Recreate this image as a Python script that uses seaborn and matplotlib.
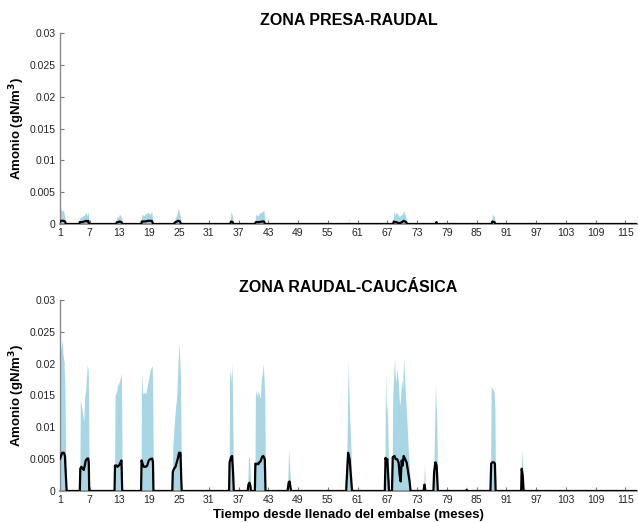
import matplotlib
matplotlib.use("Agg")
import matplotlib.pyplot as plt
import seaborn as sns
import pandas as pd

# Zona Presa-Raudal: time (months), envelope maximum and mean ammonium (gN/m3)
presa_t = [1.0, 1.2, 1.4, 1.7, 2.0, 2.2,
           4.9, 5.0, 5.5, 5.9, 6.3, 6.5, 6.7, 6.9,
           12.3, 12.5, 12.8, 13.0, 13.4, 13.6,
           17.4, 17.5, 18.0, 18.2, 18.8, 19.2, 19.5, 19.8,
           23.9, 24.3, 24.6, 24.8, 25.2, 25.4,
           35.3, 35.5, 35.8, 36.0,
           40.3, 40.5, 41.0, 41.2, 41.8, 42.1, 42.4,
           59.1, 59.2, 59.3,
           68.2, 68.3, 68.6, 68.8, 69.4, 70.0, 70.3, 70.8, 71.0,
           76.8, 76.9, 77.0,
           88.0, 88.2, 88.6, 88.8,
           117.3]
presa_max = [0.0015, 0.0026, 0.0020, 0.0022, 0.0010, 0.0,
             0.0, 0.0010, 0.0012, 0.0014, 0.0018, 0.0013, 0.0020, 0.0,
             0.0, 0.0012, 0.0010, 0.0016, 0.0010, 0.0,
             0.0, 0.0015, 0.0013, 0.0016, 0.0018, 0.0015, 0.0020, 0.0,
             0.0, 0.0010, 0.0015, 0.0025, 0.0015, 0.0,
             0.0, 0.0020, 0.0012, 0.0,
             0.0, 0.0015, 0.0013, 0.0017, 0.0019, 0.0022, 0.0,
             0.0, 0.0012, 0.0,
             0.0, 0.0020, 0.0014, 0.0019, 0.0012, 0.0015, 0.0021, 0.0010, 0.0,
             0.0, 0.0003, 0.0,
             0.0, 0.0015, 0.0012, 0.0,
             0.0]
presa_mean = [0.0003, 0.0005, 0.0005, 0.0005, 0.0004, 0.0,
              0.0, 0.0003, 0.0003, 0.0004, 0.0005, 0.0004, 0.0005, 0.0,
              0.0, 0.0003, 0.0003, 0.0004, 0.0003, 0.0,
              0.0, 0.0004, 0.0004, 0.0004, 0.0005, 0.0005, 0.0005, 0.0,
              0.0, 0.0003, 0.0004, 0.0005, 0.0004, 0.0,
              0.0, 0.0004, 0.0003, 0.0,
              0.0, 0.0003, 0.0003, 0.0003, 0.0004, 0.0004, 0.0,
              0.0, 0.0, 0.0,
              0.0, 0.0004, 0.0003, 0.0003, 0.0001, 0.0003, 0.0005, 0.0003, 0.0,
              0.0, 0.0003, 0.0,
              0.0, 0.0004, 0.0003, 0.0,
              0.0]

# Zona Raudal-Caucásica
cauc_t = [1.0, 1.2, 1.45, 1.6, 1.8, 2.0, 2.15, 2.35,
          5.0, 5.1, 5.3, 5.5, 5.8, 6.0, 6.2, 6.5, 6.7, 6.8, 6.9,
          12.0, 12.1, 12.4, 12.6, 12.9, 13.2, 13.4, 13.55,
          17.35, 17.45, 17.7, 17.9, 18.3, 18.6, 18.9, 19.2, 19.6, 19.75, 19.85,
          23.65, 23.75, 24.0, 24.3, 24.55, 24.8, 25.0, 25.3, 25.45, 25.55,
          35.1, 35.2, 35.4, 35.5, 35.7, 35.9, 36.05,
          38.85, 39.0, 39.2, 39.4, 39.5,
          40.3, 40.4, 40.6, 40.8, 41.0, 41.2, 41.4, 41.6, 41.8, 42.0, 42.3, 42.45,
          46.9, 47.1, 47.3, 47.6,
          58.7, 58.9, 59.1, 59.4, 59.7, 59.9,
          66.5, 66.65, 66.85, 67.0, 67.25, 67.35,
          67.95, 68.1, 68.45, 68.7, 69.0, 69.3, 69.5, 69.7, 69.9, 70.1, 70.3,
          70.6, 70.9, 71.2, 71.5, 71.7,
          74.3, 74.5, 74.7,
          76.3, 76.45, 76.7, 76.95, 77.2,
          82.9, 83.0, 83.1,
          87.8, 87.95, 88.2, 88.5, 88.7, 88.85,
          94.0, 94.1, 94.3, 94.5,
          117.3]
cauc_max = [0.0210, 0.0225, 0.0237, 0.0215, 0.0205, 0.0160, 0.0060, 0.0,
            0.0, 0.0143, 0.0135, 0.0125, 0.0109, 0.0150, 0.0160, 0.0198, 0.0190, 0.0120, 0.0,
            0.0, 0.0150, 0.0155, 0.0165, 0.0170, 0.0178, 0.0185, 0.0,
            0.0, 0.0186, 0.0152, 0.0155, 0.0153, 0.0165, 0.0178, 0.0190, 0.0197, 0.0120, 0.0,
            0.0, 0.0069, 0.0100, 0.0130, 0.0150, 0.0200, 0.0234, 0.0180, 0.0050, 0.0,
            0.0, 0.0180, 0.0190, 0.0170, 0.0200, 0.0080, 0.0,
            0.0, 0.0050, 0.0055, 0.0020, 0.0,
            0.0, 0.0150, 0.0158, 0.0148, 0.0158, 0.0150, 0.0145, 0.0175, 0.0185, 0.0200, 0.0150, 0.0,
            0.0, 0.0065, 0.0040, 0.0,
            0.0, 0.0080, 0.0205, 0.0120, 0.0060, 0.0,
            0.0, 0.0187, 0.0120, 0.0140, 0.0040, 0.0,
            0.0, 0.0150, 0.0208, 0.0170, 0.0193, 0.0160, 0.0133, 0.0150, 0.0175, 0.0160, 0.0210,
            0.0160, 0.0120, 0.0070, 0.0030, 0.0,
            0.0, 0.0042, 0.0,
            0.0, 0.0060, 0.0165, 0.0120, 0.0,
            0.0, 0.0010, 0.0,
            0.0, 0.0165, 0.0160, 0.0158, 0.0130, 0.0,
            0.0, 0.0065, 0.0040, 0.0,
            0.0]
cauc_mean = [0.0050, 0.0055, 0.0060, 0.0060, 0.0060, 0.0055, 0.0030, 0.0,
             0.0, 0.0035, 0.0038, 0.0036, 0.0033, 0.0040, 0.0048, 0.0051, 0.0051, 0.0045, 0.0,
             0.0, 0.0040, 0.0040, 0.0038, 0.0040, 0.0045, 0.0048, 0.0,
             0.0, 0.0048, 0.0042, 0.0038, 0.0038, 0.0040, 0.0048, 0.0050, 0.0051, 0.0045, 0.0,
             0.0, 0.0030, 0.0035, 0.0038, 0.0045, 0.0052, 0.0060, 0.0060, 0.0020, 0.0,
             0.0, 0.0045, 0.0050, 0.0053, 0.0055, 0.0030, 0.0,
             0.0, 0.0010, 0.0013, 0.0008, 0.0,
             0.0, 0.0043, 0.0042, 0.0043, 0.0042, 0.0045, 0.0046, 0.0050, 0.0054, 0.0055, 0.0050, 0.0,
             0.0, 0.0013, 0.0015, 0.0,
             0.0, 0.0030, 0.0060, 0.0050, 0.0020, 0.0,
             0.0, 0.0052, 0.0045, 0.0050, 0.0015, 0.0,
             0.0, 0.0053, 0.0055, 0.0050, 0.0050, 0.0044, 0.0025, 0.0015, 0.0048, 0.0040, 0.0055,
             0.0050, 0.0045, 0.0030, 0.0015, 0.0,
             0.0, 0.0010, 0.0,
             0.0, 0.0030, 0.0045, 0.0040, 0.0,
             0.0, 0.0002, 0.0,
             0.0, 0.0043, 0.0045, 0.0045, 0.0043, 0.0,
             0.0, 0.0035, 0.0025, 0.0,
             0.0]

titles = ["ZONA PRESA-RAUDAL", "ZONA RAUDAL-CAUCÁSICA"]
x_ticks = list(range(1, 116, 6))
y_ticks = [0, 0.005, 0.01, 0.015, 0.02, 0.025, 0.03]
y_tick_labels = ["0", "0.005", "0.01", "0.015", "0.02", "0.025", "0.03"]
x_label = "Tiempo desde llenado del embalse (meses)"
y_label = "Amonio (gN/m$^\\mathbf{3}$)"

sns.set_theme(style="ticks")
plt.rcParams["font.family"] = ["Liberation Sans", "DejaVu Sans"]

fig = plt.figure(figsize=(6.38, 5.23), dpi=100)
ax_top = fig.add_axes([0.094, 0.5717, 0.904, 0.3652])
ax_bot = fig.add_axes([0.094, 0.0612, 0.904, 0.3652])

fill_color = "#a9d6e4"
panels = [
    (ax_top, presa_t, presa_max, presa_mean, titles[0]),
    (ax_bot, cauc_t, cauc_max, cauc_mean, titles[1]),
]

for ax, t, vmax, vmean, title in panels:
    df = pd.DataFrame({"t": t, "max": vmax, "mean": vmean})
    ax.fill_between(df["t"], 0, df["max"], color=fill_color, linewidth=0, zorder=1)
    sns.lineplot(data=df, x="t", y="mean", ax=ax, color="black",
                 linewidth=1.6, estimator=None, sort=False, zorder=3)
    ax.set_xlim(1, 117.3)
    ax.set_ylim(0, 0.03)
    ax.set_xticks(x_ticks)
    ax.set_yticks(y_ticks)
    ax.set_yticklabels(y_tick_labels)
    ax.tick_params(axis="both", direction="in", length=3, width=0.8,
                   colors="#777777", labelcolor="#222222", labelsize=7.5, pad=3)
    for side in ("top", "right"):
        ax.spines[side].set_visible(False)
    ax.spines["left"].set_color("#8a8a8a")
    ax.spines["left"].set_linewidth(1.0)
    ax.spines["bottom"].set_color("#8a8a8a")
    ax.set_title(title, fontsize=11.5, fontweight="bold", pad=6, color="black")
    ax.set_ylabel(y_label, fontsize=9.5, fontweight="bold", labelpad=2, color="black")
    ax.set_xlabel("")
    ax.set_facecolor("white")

ax_bot.set_xlabel(x_label, fontsize=9.5, fontweight="bold", labelpad=3, color="black")

fig.savefig("out.png", dpi=100, facecolor="white")
